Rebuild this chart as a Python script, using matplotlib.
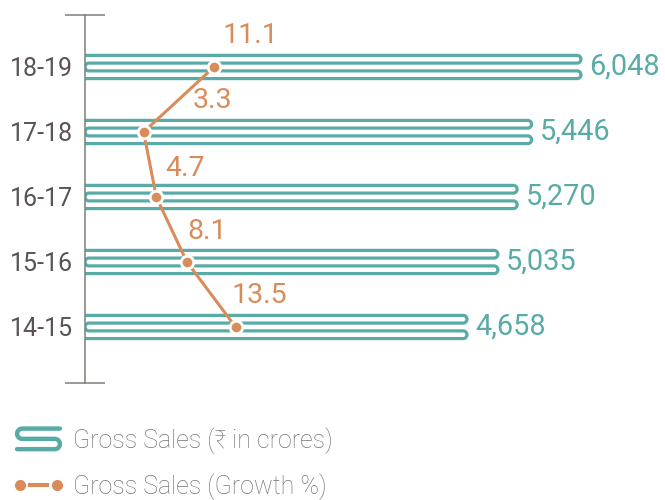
import numpy as np
import matplotlib.pyplot as plt
from matplotlib.lines import Line2D
from matplotlib.legend_handler import HandlerBase

plt.rcParams['font.family'] = ['Roboto', 'DejaVu Sans']

# data
years = ['14-15', '15-16', '16-17', '17-18', '18-19']
sales = [4658, 5035, 5270, 5446, 6048]          # Gross Sales (Rs crores)
growth = [13.5, 8.1, 4.7, 3.3, 11.1]            # growth %
# where each growth label sits relative to its point (px right, px up)
growth_offsets = [(24, 31), (20, 30), (29, 28), (69, 31), (37, 31)]

teal = '#58aba6'
orange = '#d88c5a'
grey = '#5a5254'
axis_grey = '#7f7f76'
legend_grey = '#77746f'

fig = plt.figure(figsize=(6.65, 5), dpi=100)
ax = fig.add_axes([85 / 665, 0.234, 580 / 665, 0.736])
ax.set_xlim(0, 7073)
ax.set_ylim(-0.862, 4.8)

# offsets (px) of the four strands of a bar from its centre
strands = [11.6, 3.9, -3.9, -11.6]


def serpentine(x0, x1, yc):
    # one bar: four strands joined right, left, right (display px)
    y1, y2, y3, y4 = [yc + s for s in strands]
    pts = [(x0, y1)]
    r = (y1 - y2) / 2
    t = np.linspace(np.pi / 2, -np.pi / 2, 25)
    pts += list(zip(x1 - r + r * np.cos(t), (y1 + y2) / 2 + r * np.sin(t)))
    r = (y2 - y3) / 2
    t = np.linspace(np.pi / 2, 3 * np.pi / 2, 25)
    pts += list(zip(x0 + r + r * np.cos(t), (y2 + y3) / 2 + r * np.sin(t)))
    r = (y3 - y4) / 2
    t = np.linspace(np.pi / 2, -np.pi / 2, 25)
    pts += list(zip(x1 - r + r * np.cos(t), (y3 + y4) / 2 + r * np.sin(t)))
    pts.append((x0, y4))
    return np.array(pts)


for i, v in enumerate(sales):
    x0, yc = ax.transData.transform((0, i))
    x1, _ = ax.transData.transform((v, i))
    d = ax.transData.inverted().transform(serpentine(x0, x1, yc))
    ax.plot(d[:, 0], d[:, 1], color=teal, lw=2.3,
            solid_capstyle='butt', solid_joinstyle='round', zorder=2)
    ax.annotate(f'{v:,}', (v, i), xytext=(6, 0), textcoords='offset points',
                ha='left', va='center', color=teal, fontsize=20.8)

# axis look
for s in ['top', 'right', 'bottom']:
    ax.spines[s].set_visible(False)
ax.spines['left'].set_color(axis_grey)
ax.spines['left'].set_linewidth(1.1)
ax.set_xticks([])
ax.set_yticks(range(len(years)), years)
ax.tick_params(axis='y', which='major', length=0, pad=8.6,
               labelsize=18, labelcolor=grey)
ax.set_yticks([-0.862, 4.8], minor=True)
ax.tick_params(axis='y', which='minor', length=28.8, width=1.1,
               direction='inout', color=axis_grey)

# growth line on its own x scale
ax2 = ax.twiny()
ax2.set_xlim(-3.2, 61.1)
ax2.plot(growth, range(len(growth)), color=orange, lw=2.2, marker='o',
         ms=9, mfc=orange, mec='white', mew=2, zorder=3)
for i, g in enumerate(growth):
    dx, dy = growth_offsets[i]
    ax2.annotate(f'{g}', (g, i), xytext=(dx * 0.72, dy * 0.72),
                 textcoords='offset points', ha='center', va='center',
                 color=orange, fontsize=20.5)
ax2.set_axis_off()


# legend icons
class SalesIcon(HandlerBase):
    def create_artists(self, legend, orig_handle, xdescent, ydescent,
                       width, height, fontsize, trans):
        gap = 7.4
        r = gap / 2
        yc = height / 2 - ydescent
        x0, x1 = -xdescent + 1.5, -xdescent + width - 1.5
        xs, ys = [x1], [yc + gap]
        t = np.linspace(np.pi / 2, 3 * np.pi / 2, 20)
        xs += list(x0 + r + r * np.cos(t))
        ys += list(yc + r + r * np.sin(t))
        t = np.linspace(np.pi / 2, -np.pi / 2, 20)
        xs += list(x1 - r + r * np.cos(t))
        ys += list(yc - r + r * np.sin(t))
        xs.append(x0)
        ys.append(yc - gap)
        ln = Line2D(xs, ys, color=teal, lw=3.2, solid_capstyle='round',
                    solid_joinstyle='round', transform=trans)
        return [ln]


class GrowthIcon(HandlerBase):
    def create_artists(self, legend, orig_handle, xdescent, ydescent,
                       width, height, fontsize, trans):
        yc = height / 2 - ydescent
        x0, x1 = -xdescent + 3.5, -xdescent + width - 3.5
        dots = Line2D([x0, x1], [yc, yc], ls='none', marker='o', ms=7,
                      mfc=orange, mec=orange, transform=trans)
        dash = Line2D([x0 + 7, x1 - 7], [yc, yc], color=orange, lw=3,
                      transform=trans)
        return [dash, dots]


h_sales = Line2D([], [])
h_growth = Line2D([], [])
fig.legend([h_sales, h_growth],
           ['Gross Sales (₹ in crores)', 'Gross Sales (Growth %)'],
           handler_map={h_sales: SalesIcon(), h_growth: GrowthIcon()},
           loc='upper left', bbox_to_anchor=(15 / 665, 1 - 427 / 500),
           frameon=False, borderpad=0, borderaxespad=0,
           handlelength=1.88, handletextpad=0.45, labelspacing=0.8,
           prop={'size': 18, 'weight': 'light'}, labelcolor=legend_grey)

fig.savefig('out.png', dpi=100)
